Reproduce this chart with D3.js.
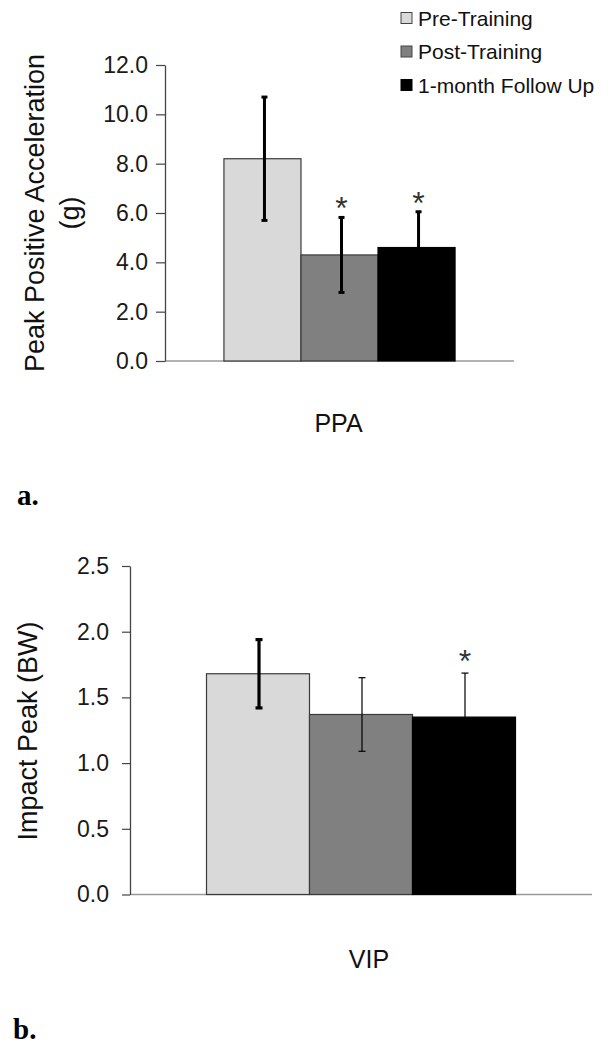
<!DOCTYPE html>
<html>
<head>
<meta charset="utf-8">
<script src="https://cdn.jsdelivr.net/npm/d3@7"></script>
<style>
  html, body { margin: 0; padding: 0; background: #fff; }
  svg { display: block; font-family: "Liberation Sans", Arial, sans-serif; }
</style>
</head>
<body>
<svg id="chart" width="610" height="1050"></svg>
<script>
// ---- data ----
const seriesNames = ["Pre-Training", "Post-Training", "1-month Follow Up"];
const seriesColors = ["#d9d9d9", "#808080", "#000000"];

const ppaCategory = ["PPA"];
const ppaMeans = [8.2, 4.3, 4.6];
const ppaSD = [2.5, 1.52, 1.45];
const ppaSig = [false, true, true];
const ppaTicks = [0, 2, 4, 6, 8, 10, 12];

const vipCategory = ["VIP"];
const vipMeans = [1.68, 1.37, 1.35];
const vipSD = [0.26, 0.28, 0.335];
const vipSig = [false, false, true];
const vipTicks = [0, 0.5, 1.0, 1.5, 2.0, 2.5];

const svg = d3.select("#chart");

function drawPanel(cfg) {
  const g = svg.append("g");
  const y = d3.scaleLinear().domain(cfg.domain).range([cfg.bottom, cfg.top]);
  const x0 = d3.scaleBand().domain(cfg.category).range([cfg.left, cfg.right])
    .paddingInner(0).paddingOuter(cfg.outerPad);
  const x1 = d3.scaleBand().domain(seriesNames).range([0, x0.bandwidth()]).padding(0);

  const rows = seriesNames.map((s, i) => ({
    name: s, mean: cfg.means[i], sd: cfg.sd[i], sig: cfg.sig[i], i: i
  }));

  // baseline
  g.append("line")
    .attr("x1", cfg.left).attr("x2", cfg.right)
    .attr("y1", y(0)).attr("y2", y(0))
    .attr("stroke", "#9a9a9a").attr("stroke-width", 1.5);

  // y axis
  const axis = g.append("g")
    .attr("transform", `translate(${cfg.left},0)`)
    .call(d3.axisLeft(y).tickValues(cfg.ticks).tickFormat(d3.format(".1f"))
      .tickSize(cfg.tickSize).tickPadding(cfg.tickPad).tickSizeOuter(0));
  axis.select(".domain").attr("stroke", "#444").attr("stroke-width", 1.3);
  axis.selectAll(".tick line").attr("stroke", "#444").attr("stroke-width", 1.2);
  axis.selectAll(".tick text").attr("font-size", cfg.tickFont).attr("fill", "#1a1a1a")
    .attr("font-family", "'Liberation Sans', Arial, sans-serif");

  const grp = g.append("g").attr("transform", `translate(${x0(cfg.category[0])},0)`);

  // bars
  grp.selectAll("rect.bar").data(rows).join("rect")
    .attr("class", "bar")
    .attr("x", d => x1(d.name))
    .attr("width", x1.bandwidth())
    .attr("y", d => y(d.mean))
    .attr("height", d => y(0) - y(d.mean))
    .attr("fill", d => seriesColors[d.i])
    .attr("stroke", d => d.i === 2 ? "#000" : "#3a3a3a")
    .attr("stroke-width", 1.2);

  // error bars
  const cx = d => x1(d.name) + x1.bandwidth() / 2 + cfg.errShift;
  const eb = grp.selectAll("g.err").data(rows).join("g").attr("class", "err");
  eb.append("line")
    .attr("x1", cx).attr("x2", cx)
    .attr("y1", d => y(d.mean - d.sd)).attr("y2", d => y(d.mean + d.sd))
    .attr("stroke", "#000").attr("stroke-width", d => cfg.errWidth[d.i]);
  [1, -1].forEach(sign => {
    eb.append("line")
      .attr("x1", d => cx(d) - cfg.capHalf).attr("x2", d => cx(d) + cfg.capHalf)
      .attr("y1", d => y(d.mean + sign * d.sd)).attr("y2", d => y(d.mean + sign * d.sd))
      .attr("stroke", "#000").attr("stroke-width", d => cfg.errWidth[d.i]);
  });

  // significance asterisks
  grp.selectAll("text.sig").data(rows.filter(d => d.sig)).join("text")
    .attr("class", "sig")
    .attr("x", cx)
    .attr("y", d => y(d.mean + d.sd) - cfg.starGap)
    .attr("text-anchor", "middle")
    .attr("font-size", 32).attr("fill", "#333")
    .text("*");

  // category label
  g.append("text")
    .attr("x", x0(cfg.category[0]) + x0.bandwidth() / 2 + cfg.catDx)
    .attr("y", cfg.catY)
    .attr("text-anchor", "middle")
    .attr("font-size", 25).attr("fill", "#111")
    .text(cfg.category[0]);

  // y label (rotated)
  cfg.yLabel.forEach((line, k) => {
    g.append("text")
      .attr("transform", `translate(${cfg.yLabelX[k]},${cfg.yLabelY}) rotate(-90)`)
      .attr("text-anchor", "middle")
      .attr("font-size", 27).attr("fill", "#111")
      .text(line);
  });

  // panel letter
  g.append("text")
    .attr("x", cfg.letterX).attr("y", cfg.letterY)
    .attr("font-family", "'Liberation Serif', 'Times New Roman', serif")
    .attr("font-weight", "bold").attr("font-size", 29).attr("fill", "#000")
    .text(cfg.letter);
}

drawPanel({
  category: ppaCategory, means: ppaMeans, sd: ppaSD, sig: ppaSig, ticks: ppaTicks,
  domain: [0, 12], top: 65, bottom: 361, left: 165, right: 514, outerPad: 0.255,
  tickSize: 9, tickPad: 8, tickFont: 23,
  errWidth: [3, 3, 3], capHalf: 3, errShift: 2, starGap: -2,
  catY: 432, catDx: -1,
  yLabel: ["Peak Positive Acceleration", "(g)"], yLabelX: [44, 79], yLabelY: 213,
  letter: "a.", letterX: 17, letterY: 505
});

drawPanel({
  category: vipCategory, means: vipMeans, sd: vipSD, sig: vipSig, ticks: vipTicks,
  domain: [0, 2.5], top: 566, bottom: 894.5, left: 130, right: 592, outerPad: 0.2476,
  tickSize: 8, tickPad: 13, tickFont: 23,
  errWidth: [3.2, 1.2, 1.2], capHalf: 3.5, errShift: 1, starGap: 1,
  catY: 968, catDx: 8,
  yLabel: ["Impact Peak (BW)"], yLabelX: [37], yLabelY: 731,
  letter: "b.", letterX: 13, letterY: 1039
});

// legend
const legend = svg.append("g").attr("class", "legend");
const legendY = d3.scalePoint().domain(seriesNames).range([18, 85]);
legend.selectAll("rect").data(seriesNames).join("rect")
  .attr("x", 401).attr("y", d => legendY(d) - 5.5)
  .attr("width", 11).attr("height", 11)
  .attr("fill", (d, i) => seriesColors[i])
  .attr("stroke", (d, i) => i === 2 ? "#000" : "#444").attr("stroke-width", 1);
legend.selectAll("text").data(seriesNames).join("text")
  .attr("x", 418).attr("y", d => legendY(d))
  .attr("dy", "0.36em")
  .attr("font-size", 21).attr("fill", "#111")
  .text(d => d);
</script>
</body>
</html>
